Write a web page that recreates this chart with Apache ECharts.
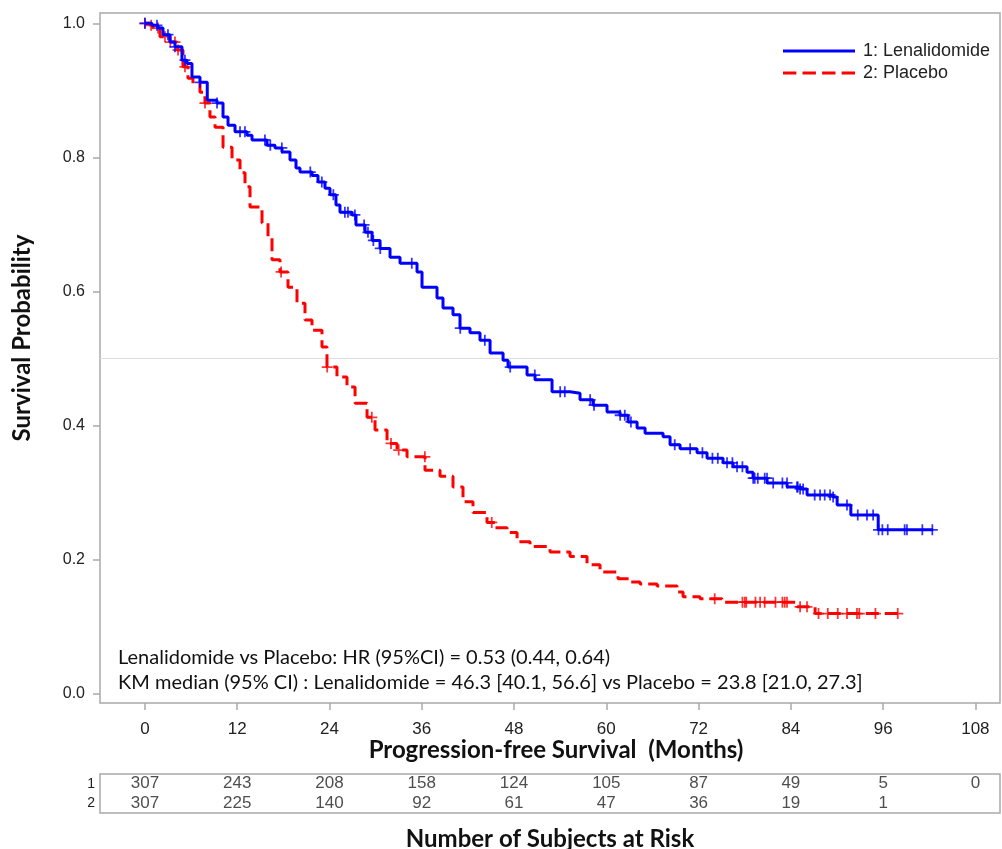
<!DOCTYPE html>
<html>
<head>
<meta charset="utf-8">
<script src="https://cdn.jsdelivr.net/npm/echarts@6/dist/echarts.min.js"></script>
<style>
  body { margin: 0; background: #fff; }
  #km { width: 1002px; height: 849px; }
</style>
</head>
<body>
<div id="km"></div>
<script>
// step curves: time of drop (months) and survival after the drop
let len_time = [0, 0.91, 1.69, 2.34, 3.25, 3.90, 4.81, 5.46, 6.11, 7.15, 8.1, 9.36, 10.15, 10.80, 11.71,
    13.27, 13.92, 15.87, 16.91, 17.82, 18.86, 19.64, 20.16, 21.72, 22.50, 23.41, 24.06, 24.84, 25.36,
    26.92, 27.44, 28.62, 29.53, 30.57, 31.87, 33.17, 35.38, 36.03, 37.98, 38.76, 40.06, 40.97, 42.27,
    43.57, 44.88, 46.57, 47.22, 49.69, 50.73, 52.94, 55.28, 56.58, 58.27, 60.09, 61.78, 62.83, 64.00,
    65.04, 67.38, 68.29, 69.59, 71.80, 73.10, 75.18, 76.48, 78.30, 79.08, 80.91, 83.51, 85.20, 86.11,
    89.49, 90.02, 91.8, 95.36, 102.5];
let len_surv = [1.000, 0.997, 0.993, 0.983, 0.972, 0.965, 0.945, 0.940, 0.920, 0.912, 0.885, 0.881, 0.860, 0.848, 0.838,
    0.833, 0.826, 0.818, 0.814, 0.808, 0.796, 0.784, 0.778, 0.773, 0.763, 0.754, 0.744, 0.729, 0.718,
    0.714, 0.699, 0.688, 0.676, 0.664, 0.651, 0.642, 0.629, 0.606, 0.590, 0.575, 0.565, 0.545, 0.538,
    0.527, 0.508, 0.497, 0.487, 0.475, 0.468, 0.450, 0.448, 0.438, 0.430, 0.420, 0.415, 0.405, 0.396,
    0.388, 0.383, 0.371, 0.365, 0.359, 0.351, 0.344, 0.338, 0.330, 0.321, 0.314, 0.308, 0.305, 0.296,
    0.293, 0.281, 0.266, 0.244, 0.244];

let pla_time = [0, 0.65, 1.04, 1.95, 3.25, 4.16, 4.94, 5.59, 6.24, 7.15, 7.80, 8.45, 9.11, 10.15, 11.32,
    12.36, 13.01, 13.66, 15.22, 16.00, 16.52, 17.56, 18.60, 19.77, 20.81, 21.72, 23.02, 23.67, 24.97,
    26.27, 27.32, 28.88, 29.92, 31.48, 32.78, 34.08, 36.42, 38.37, 40.06, 41.36, 42.66, 44.48, 45.53,
    47.09, 48.39, 50.08, 52.68, 55.28, 57.49, 59.18, 61.52, 63.08, 64.39, 66.60, 69.20, 69.98, 72.19,
    75.05, 84.81, 87.15, 98.2];
let pla_surv = [1.000, 0.997, 0.993, 0.980, 0.972, 0.960, 0.935, 0.918, 0.910, 0.897, 0.881, 0.860, 0.845, 0.815, 0.796,
    0.777, 0.756, 0.726, 0.702, 0.681, 0.647, 0.629, 0.606, 0.582, 0.557, 0.542, 0.517, 0.487, 0.472,
    0.457, 0.433, 0.412, 0.393, 0.373, 0.363, 0.353, 0.333, 0.324, 0.308, 0.286, 0.270, 0.255, 0.247,
    0.240, 0.226, 0.219, 0.211, 0.204, 0.192, 0.181, 0.171, 0.166, 0.163, 0.160, 0.151, 0.144, 0.141,
    0.136, 0.129, 0.119, 0.119];

// censoring times (months)
let len_cens = [0, 1.56, 2.99, 3.90, 5.20, 7.15, 9.37, 12.36, 13.0, 15.6, 16.3, 17.8, 21.5, 23.0, 24.5,
    26.0, 26.4, 27.3, 28.5, 29.0, 29.7, 30.6, 34.7, 41.0, 44.2, 47.5, 50.7, 54.0, 54.6, 57.9, 58.4,
    61.8, 62.4, 63.2, 68.9, 70.9, 72.5, 73.8, 74.5, 75.7, 76.4, 77.0, 77.7, 79.1, 79.3, 79.7, 80.6,
    80.9, 81.7, 82.9, 83.5, 84.8, 84.9, 85.2, 85.6, 87.1, 87.8, 88.4, 89.1, 89.5, 91.3, 92.7, 93.9,
    94.7, 95.4, 95.9, 96.6, 98.8, 99.1, 101.1, 102.4];
let pla_cens = [0, 0.8, 1.7, 2.6, 3.3, 3.9, 4.3, 5.2, 7.8, 17.7, 23.7, 29.5, 32.0, 33.0, 36.4, 45.1,
    74.1, 77.7, 78.0, 78.2, 79.4, 80.0, 80.6, 82.0, 82.9, 83.2, 83.5, 85.2, 86.1, 87.6, 88.8, 90.1,
    91.3, 92.6, 92.9, 95.0, 97.9];

// number at risk
let risk_months = [0, 12, 24, 36, 48, 60, 72, 84, 96, 108];
let risk_len = [307, 243, 208, 158, 124, 105, 87, 49, 5, 0];
let risk_pla = [307, 225, 140, 92, 61, 47, 36, 19, 1];

let x_ticks = [0, 12, 24, 36, 48, 60, 72, 84, 96, 108];
let y_ticks = [0, 0.2, 0.4, 0.6, 0.8, 1.0];

function survAt(times, surv, t) {
    let s = surv[0];
    for (let i = 0; i < times.length; i++) {
        if (times[i] <= t) s = surv[i];
    }
    return s;
}

let plus = 'path://M4.2,0h1.6v10h-1.6z M0,4.2h10v1.6h-10z';
let axis_gray = '#a9a9a9';
let arial = 'Liberation Sans';

let my_chart = echarts.init(document.getElementById('km'));

let risk_data = [];
risk_len.forEach(function(v, i){ risk_data.push({value: [risk_months[i], '1'], n: v}); });
risk_pla.forEach(function(v, i){ risk_data.push({value: [risk_months[i], '2'], n: v}); });

let option = {
    backgroundColor: '#fff',
    animation: false,
    grid: [
        {left: 100, top: 13, width: 900, height: 690, show: true, borderColor: axis_gray, borderWidth: 1.5},
        {left: 100, top: 774, width: 900, height: 39, show: true, borderColor: axis_gray, borderWidth: 1.5}
    ],
    legend: {
        data: [
            {name: '1: Lenalidomide', icon: 'path://M0,0h72v3h-72z'},
            {name: '2: Placebo', icon: 'path://M0,0h13v3h-13z M19,0h13v3h-13z M38,0h13v3h-13z M57,0h13v3h-13z'}
        ],
        orient: 'vertical',
        left: 783,
        top: 42,
        padding: 0,
        itemWidth: 72,
        itemHeight: 14,
        itemGap: 4,
        textStyle: {fontFamily: arial, fontSize: 18, color: '#222', padding: [0, 0, 0, 3]}
    },
    xAxis: [
        {
            gridIndex: 0, type: 'value', min: -5.85, max: 111.2,
            splitLine: {show: false},
            axisLine: {show: false, onZero: false},
            axisTick: {show: true, customValues: x_ticks, length: 7, lineStyle: {color: axis_gray, width: 1.5}},
            axisLabel: {customValues: x_ticks, fontFamily: arial, fontSize: 17, color: '#222', margin: 18}
        },
        {gridIndex: 1, type: 'value', min: -5.85, max: 111.2, show: false}
    ],
    yAxis: [
        {
            gridIndex: 0, type: 'value', min: -0.0145, max: 1.0154,
            splitLine: {show: false},
            axisLine: {show: false, onZero: false},
            axisTick: {show: true, customValues: y_ticks, length: 7, lineStyle: {color: axis_gray, width: 1.5}},
            axisLabel: {
                customValues: y_ticks, fontFamily: arial, fontSize: 16, color: '#222', margin: 15,
                formatter: function(v){ return v.toFixed(1); }
            }
        },
        {
            gridIndex: 1, type: 'category', data: ['1', '2'], inverse: true,
            axisLine: {show: false}, axisTick: {show: false},
            axisLabel: {interval: 0, fontFamily: arial, fontSize: 14, color: '#222', margin: 5}
        }
    ],
    series: [
        {
            name: '1: Lenalidomide',
            type: 'line',
            step: 'end',
            symbol: 'none',
            lineStyle: {color: '#0000ff', width: 3},
            itemStyle: {color: '#0000ff'},
            data: len_time.map((t, i) => [t, len_surv[i]]),
            z: 3,
            markLine: {
                silent: true,
                symbol: 'none',
                label: {show: false},
                lineStyle: {color: '#dedede', width: 1.2, type: 'solid'},
                data: [{yAxis: 0.5}],
                z: 1
            }
        },
        {
            name: '2: Placebo',
            type: 'line',
            step: 'end',
            symbol: 'none',
            lineStyle: {color: '#ff0000', width: 3, type: [13, 6]},
            itemStyle: {color: '#ff0000'},
            data: pla_time.map((t, i) => [t, pla_surv[i]]),
            z: 2
        },
        {
            name: 'len_censored',
            type: 'scatter',
            symbol: plus,
            symbolSize: 11,
            itemStyle: {color: '#0000ff'},
            data: len_cens.map(t => [t, survAt(len_time, len_surv, t)]),
            z: 3
        },
        {
            name: 'pla_censored',
            type: 'scatter',
            symbol: plus,
            symbolSize: 11,
            itemStyle: {color: '#ff0000'},
            data: pla_cens.map(t => [t, survAt(pla_time, pla_surv, t)]),
            z: 2
        },
        {
            name: 'at_risk',
            type: 'scatter',
            xAxisIndex: 1,
            yAxisIndex: 1,
            symbolSize: 0,
            data: risk_data,
            label: {
                show: true,
                position: 'inside',
                fontFamily: arial,
                fontSize: 17,
                color: '#222',
                formatter: function(p){ return String(p.data.n); }
            }
        }
    ],
    graphic: [
        {
            type: 'text', x: 22, y: 338, rotation: Math.PI / 2,
            style: {text: 'Survival Probability', font: 'bold 24px Lato', fill: '#111', textAlign: 'center', textVerticalAlign: 'middle'}
        },
        {
            type: 'text', x: 556, y: 750,
            style: {text: 'Progression-free Survival  (Months)', font: 'bold 24px Lato', fill: '#111', textAlign: 'center', textVerticalAlign: 'middle'}
        },
        {
            type: 'text', x: 550, y: 839,
            style: {text: 'Number of Subjects at Risk', font: 'bold 24px Lato', fill: '#111', textAlign: 'center', textVerticalAlign: 'middle'}
        },
        {
            type: 'text', x: 118, y: 658,
            style: {text: 'Lenalidomide vs Placebo: HR (95%CI) = 0.53 (0.44, 0.64)', font: '20px Lato', fill: '#111', textAlign: 'left', textVerticalAlign: 'middle'}
        },
        {
            type: 'text', x: 118, y: 683,
            style: {text: 'KM median (95% CI) : Lenalidomide = 46.3 [40.1, 56.6] vs Placebo = 23.8 [21.0, 27.3]', font: '20px Lato', fill: '#111', textAlign: 'left', textVerticalAlign: 'middle'}
        }
    ]
};

my_chart.setOption(option);
</script>
</body>
</html>
